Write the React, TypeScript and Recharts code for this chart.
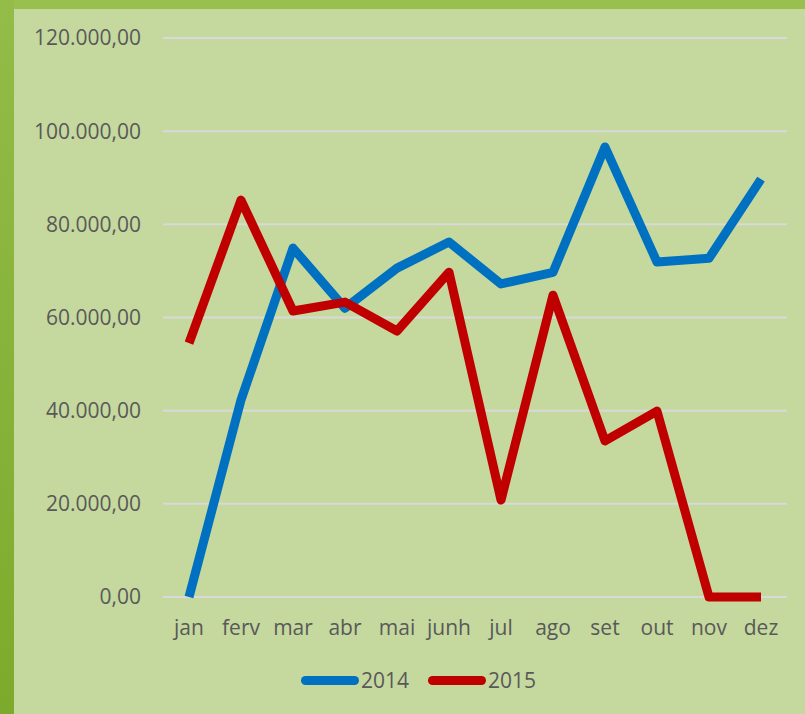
import { LineChart, Line, XAxis, YAxis, CartesianGrid } from 'recharts';

const months = ['jan', 'ferv', 'mar', 'abr', 'mai', 'junh', 'jul', 'ago', 'set', 'out', 'nov', 'dez'];
const sales2014 = [0, 42300, 74900, 62000, 70600, 76200, 67200, 69700, 96600, 71900, 72700, 89700];
const sales2015 = [54500, 85200, 61400, 63300, 57100, 69700, 20800, 64800, 33500, 39900, 0, 0];
const yTicks = [0, 20000, 40000, 60000, 80000, 100000, 120000];

const data = months.map((m, i) => ({ month: m, y2014: sales2014[i], y2015: sales2015[i] }));

const FONT = '"Open Sans", sans-serif';
const TEXT = '#595959';

// 120000 -> "120.000,00"
function fmt(v: number) {
  const s = Math.round(v).toString().replace(/\B(?=(\d{3})+(?!\d))/g, '.');
  return `${s},00`;
}

function LegendRow() {
  const items = [
    { label: '2014', color: '#0070C0' },
    { label: '2015', color: '#C00000' },
  ];
  return (
    <div style={{ display: 'flex', gap: 19, fontFamily: FONT, fontSize: 21, color: TEXT }}>
      {items.map((it) => (
        <div key={it.label} style={{ display: 'flex', alignItems: 'center' }}>
          <span style={{ display: 'inline-block', width: 58, height: 9, borderRadius: 5, background: it.color, marginRight: 2 }} />
          <span>{it.label}</span>
        </div>
      ))}
    </div>
  );
}

export default function App() {
  return (
    <div style={{ position: 'absolute', left: 0, top: 0, width: 805, height: 714, background: '#C5D89E', overflow: 'hidden' }}>
      <div style={{ position: 'absolute', left: 0, top: 0, width: 805, height: 9, background: '#98C04F' }} />
      <div style={{ position: 'absolute', left: 0, top: 0, width: 14, height: 714, background: 'linear-gradient(#93BC48, #7DAA2C)' }} />
      <div style={{ position: 'absolute', left: 0, top: 0 }}>
        <LineChart width={805} height={714} data={data} margin={{ top: 38, right: 18, bottom: 77, left: 0 }}>
          <CartesianGrid vertical={false} stroke="#D9D9D9" strokeWidth={2} />
          <XAxis
            dataKey="month"
            height={40}
            padding={{ left: 26, right: 26 }}
            axisLine={false}
            tickLine={false}
            tickSize={0}
            tickMargin={23}
            interval={0}
            tick={{ fill: TEXT, fontSize: 21, fontFamily: FONT }}
          />
          <YAxis
            width={163}
            domain={[0, 120000]}
            ticks={yTicks}
            tickFormatter={fmt}
            axisLine={false}
            tickLine={false}
            tickSize={0}
            tickMargin={22}
            tick={{ fill: TEXT, fontSize: 21, fontFamily: FONT }}
          />
          <Line dataKey="y2014" stroke="#0070C0" strokeWidth={9} dot={false} strokeLinejoin="round" isAnimationActive={false} />
          <Line dataKey="y2015" stroke="#C00000" strokeWidth={9} dot={false} strokeLinejoin="round" isAnimationActive={false} />
        </LineChart>
      </div>
      <div style={{ position: 'absolute', left: 301, top: 666 }}>
        <LegendRow />
      </div>
    </div>
  );
}
